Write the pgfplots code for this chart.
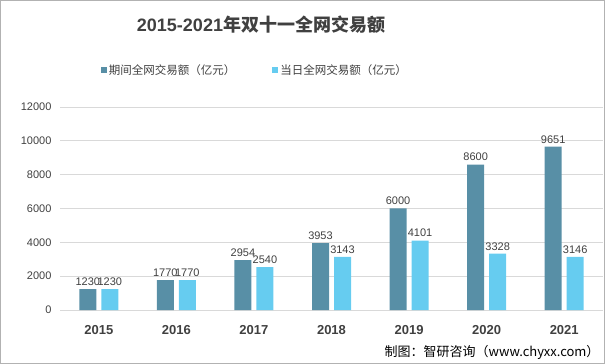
\documentclass[border=0pt]{standalone}
\usepackage{fontspec}
\setmainfont{Liberation Sans}
\newfontfamily\cjk{Noto Sans CJK SC}
\usepackage{pgfplots}
\pgfplotsset{compat=1.18}
\definecolor{darkbar}{RGB}{88,143,166}
\definecolor{lightbar}{RGB}{102,204,240}
\definecolor{txt}{RGB}{64,64,64}
\definecolor{gridc}{RGB}{217,217,217}
\begin{document}
\begin{tikzpicture}[x=1pt,y=1pt]
\draw[gray!60, line width=1pt] (0.5,0.5) rectangle (604.5,363.5);
\begin{axis}[at={(60pt,54pt)}, anchor=south west, scale only axis,
  width=543pt, height=203pt,
  ybar=5pt, bar width=17pt,
  xmin=-0.5, xmax=6.5, ymin=0, ymax=12000,
  xtick=data, xticklabels={2015,2016,2017,2018,2019,2020,2021},
  ytick={0,2000,...,12000},
  axis line style={draw=none}, tick style={draw=none},
  ymajorgrids, grid style={gridc, line width=0.8pt},
  scaled y ticks=false,
  /pgf/number format/assume math mode=true,
  /pgf/number format/1000 sep={},
  yticklabel style={font=\fontsize{11}{13}\selectfont, color=txt, xshift=-5pt},
  xticklabel style={font=\fontsize{13}{15}\selectfont\bfseries, color=txt, yshift=-8pt},
  nodes near coords,
  nodes near coords style={font=\fontsize{11}{13}\selectfont, color=txt},
  legend style={at={(0.359,1.182)}, anchor=center, draw=none, fill=none,
    legend columns=2, font=\fontsize{11.5}{13}\selectfont\cjk, text=txt,
    /tikz/every even column/.append style={column sep=35pt},
    /tikz/every odd column/.append style={column sep=0pt}},
  legend cell align=left,
]
\addplot[fill=darkbar, draw=none, legend image code/.code={\fill[darkbar] (0pt,-3pt) rectangle (6pt,3pt);}]
  coordinates {(0,1230) (1,1770) (2,2954) (3,3953) (4,6000) (5,8600) (6,9651)};
\addplot[fill=lightbar, draw=none, legend image code/.code={\fill[lightbar] (0pt,-3pt) rectangle (6pt,3pt);}]
  coordinates {(0,1230) (1,1770) (2,2540) (3,3143) (4,4101) (5,3328) (6,3146)};
\legend{期间全网交易额（亿元）,当日全网交易额（亿元）}
\end{axis}
\node[font=\fontsize{18}{20}\selectfont\bfseries, color=txt] at (261,339) {2015-2021{\cjk\bfseries 年双十一全网交易额}};
\node[anchor=east, font=\fontsize{13}{15}\selectfont\cjk, color=black] at (603,12) {制图：智研咨询（www.chyxx.com）};
\end{tikzpicture}
\end{document}
